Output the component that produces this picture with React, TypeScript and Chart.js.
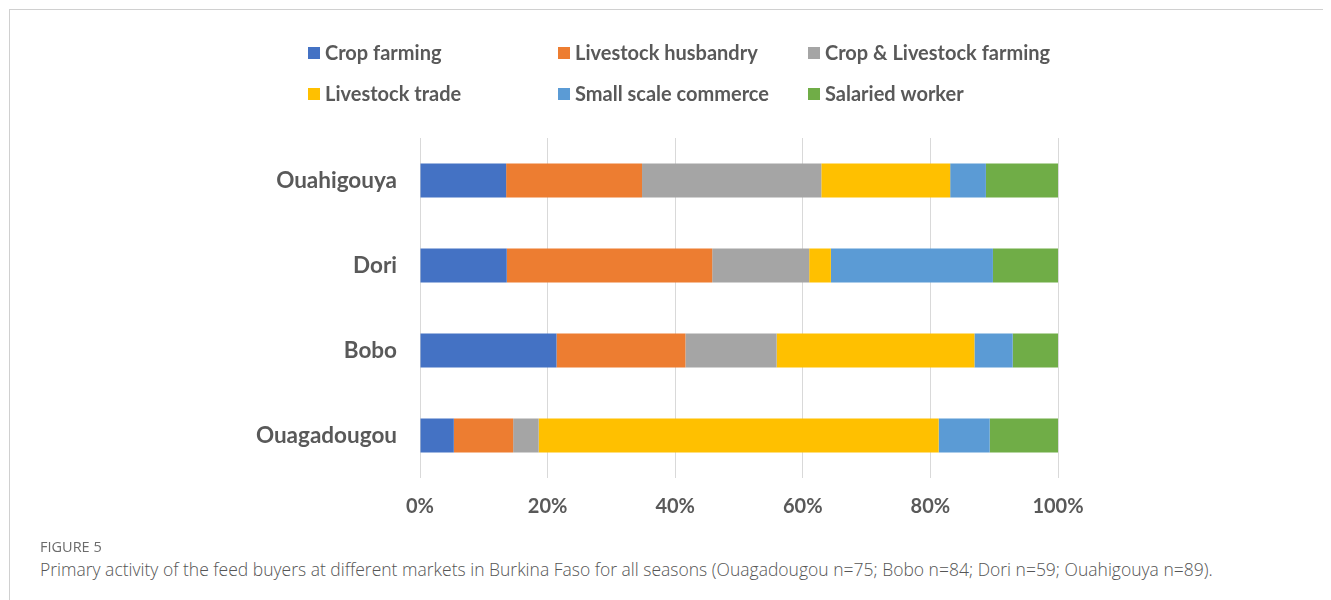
import React, { useEffect, useRef } from 'react';
import { Chart, registerables } from 'chart.js';

Chart.register(...registerables);

// ---- Data (percent of feed buyers per market) ----
const markets = ['Ouahigouya', 'Dori', 'Bobo', 'Ouagadougou'];
const cropFarming = [13.5, 13.6, 21.4, 5.3];
const livestockHusbandry = [21.3, 32.2, 20.2, 9.3];
const cropLivestockFarming = [28.1, 15.2, 14.3, 4.0];
const livestockTrade = [20.2, 3.4, 31.0, 62.7];
const smallScaleCommerce = [5.6, 25.4, 6.0, 8.0];
const salariedWorker = [11.3, 10.2, 7.1, 10.7];
const seriesNames = [
  'Crop farming',
  'Livestock husbandry',
  'Crop & Livestock farming',
  'Livestock trade',
  'Small scale commerce',
  'Salaried worker',
];
const xTickStep = 20;
const xMax = 100;

const seriesColors = ['#4472C4', '#ED7D31', '#A5A5A5', '#FFC000', '#5B9BD5', '#70AD47'];

const CANVAS_W = 1321;
const CANVAS_H = 530;
const FONT = 'Lato, "Open Sans", sans-serif';

const gridLegend = {
  id: 'gridLegend',
  afterDraw(chart: any, _args: any, opts: any) {
    const ctx = chart.ctx;
    ctx.save();
    chart.data.datasets.forEach((ds: any, i: number) => {
      const col = i % opts.columns;
      const row = Math.floor(i / opts.columns);
      const x = opts.left + col * opts.colWidth;
      const y = opts.top + row * opts.rowHeight;
      ctx.fillStyle = ds.backgroundColor;
      ctx.fillRect(x, Math.round(y - opts.box / 2), opts.box, opts.box);
      ctx.fillStyle = opts.color;
      ctx.font = opts.font;
      ctx.textBaseline = 'middle';
      ctx.textAlign = 'left';
      ctx.fillText(ds.label, x + opts.box + opts.gap, y + 1);
    });
    ctx.restore();
  },
};

export default function App() {
  const canvasRef = useRef<HTMLCanvasElement | null>(null);

  useEffect(() => {
    if (!canvasRef.current) return;
    const values = [
      cropFarming,
      livestockHusbandry,
      cropLivestockFarming,
      livestockTrade,
      smallScaleCommerce,
      salariedWorker,
    ];
    const chart = new Chart(canvasRef.current, {
      type: 'bar',
      data: {
        labels: markets,
        datasets: values.map((v, i) => ({
          label: seriesNames[i],
          data: v,
          backgroundColor: seriesColors[i],
          borderWidth: 0,
          barPercentage: 0.4,
          categoryPercentage: 1.0,
        })),
      },
      options: {
        indexAxis: 'y',
        responsive: false,
        animation: false,
        layout: { padding: { top: 128, right: 273, bottom: 20, left: 0 } },
        plugins: {
          legend: { display: false },
          tooltip: { enabled: false },
          gridLegend: {
            columns: 3,
            left: 298,
            top: 43,
            colWidth: 250,
            rowHeight: 41,
            box: 12,
            gap: 5,
            color: '#595959',
            font: `bold 20px ${FONT}`,
          },
        } as any,
        scales: {
          x: {
            stacked: true,
            min: 0,
            max: xMax,
            ticks: {
              stepSize: xTickStep,
              color: '#595959',
              font: { family: FONT, size: 20, weight: 'bold' },
              padding: 17,
              callback: (v: any) => `${v}%`,
            },
            grid: { color: '#D9D9D9', lineWidth: 1, drawTicks: false },
            border: { display: false },
            afterFit: (axis: any) => {
              axis.height = 42;
            },
          },
          y: {
            stacked: true,
            ticks: {
              color: '#595959',
              font: { family: FONT, size: 22.5, weight: 'bold' },
              padding: 23,
            },
            grid: { display: false, drawTicks: false },
            border: { display: false },
            afterFit: (axis: any) => {
              axis.width = 410;
            },
          },
        },
      },
      plugins: [gridLegend],
    });
    return () => chart.destroy();
  }, []);

  return (
    <div
      style={{
        position: 'relative',
        margin: '1px 0 0 1px',
        borderTop: '1px solid #d0d0d0',
        borderLeft: '1px solid #d0d0d0',
        height: 600,
        fontFamily: '"Open Sans", sans-serif',
      }}
    >
      <canvas
        ref={canvasRef}
        width={CANVAS_W}
        height={CANVAS_H}
        style={{ display: 'block', width: CANVAS_W, height: CANVAS_H }}
      />
      <div
        style={{
          position: 'absolute',
          left: 30,
          top: 528,
          fontSize: 14.5,
          lineHeight: '18px',
          color: '#6b6b6b',
        }}
      >
        FIGURE 5
      </div>
      <div
        style={{
          position: 'absolute',
          left: 30,
          top: 548,
          fontSize: 17.5,
          lineHeight: '22px',
          fontWeight: 300,
          color: '#555',
          whiteSpace: 'nowrap',
        }}
      >
        Primary activity of the feed buyers at different markets in Burkina Faso for all seasons (Ouagadougou n=75; Bobo n=84; Dori n=59; Ouahigouya n=89).
      </div>
    </div>
  );
}
